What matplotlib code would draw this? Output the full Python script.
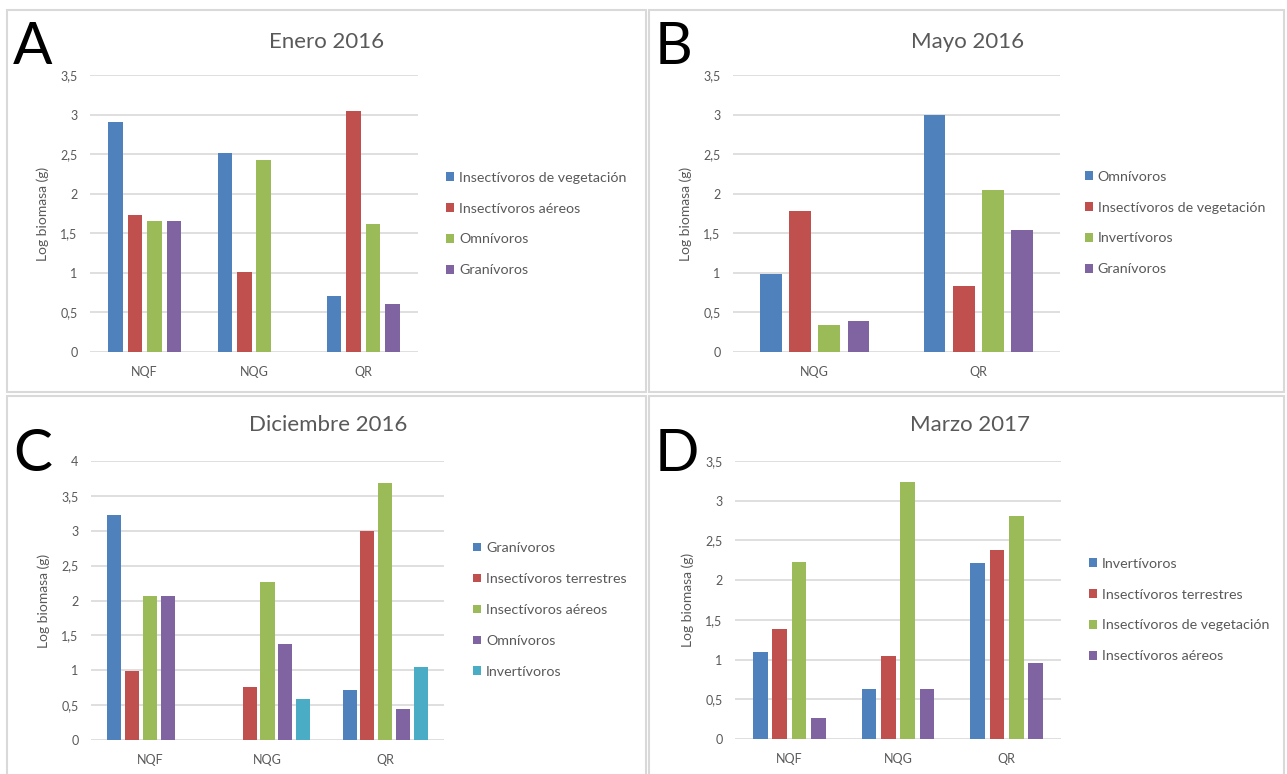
import numpy as np
import matplotlib.pyplot as plt
from matplotlib.patches import Rectangle
from matplotlib.ticker import MultipleLocator, FuncFormatter

plt.close('all')
plt.rcParams['font.family'] = ['Lato', 'DejaVu Sans']

# colours of the series (Excel 2010 palette)
blue = '#4F81BD'
red = '#C0504D'
green = '#9BBB59'
purple = '#8064A2'
cyan = '#4BACC6'

# A - Enero 2016
sites_a = ['NQF', 'NQG', 'QR']
labels_a = ['Insectívoros de vegetación', 'Insectívoros aéreos', 'Omnívoros', 'Granívoros']
vals_a = [
    [2.90, 2.51, 0.71],
    [1.73, 1.01, 3.05],
    [1.66, 2.43, 1.62],
    [1.66, np.nan, 0.61],
]

# B - Mayo 2016
sites_b = ['NQG', 'QR']
labels_b = ['Omnívoros', 'Insectívoros de vegetación', 'Invertívoros', 'Granívoros']
vals_b = [
    [0.98, 2.99],
    [1.78, 0.83],
    [0.34, 2.05],
    [0.39, 1.54],
]

# C - Diciembre 2016
sites_c = ['NQF', 'NQG', 'QR']
labels_c = ['Granívoros', 'Insectívoros terrestres', 'Insectívoros aéreos', 'Omnívoros', 'Invertívoros']
vals_c = [
    [3.22, np.nan, 0.71],
    [0.99, 0.76, 2.99],
    [2.06, 2.26, 3.68],
    [2.06, 1.37, 0.45],
    [np.nan, 0.59, 1.04],
]

# D - Marzo 2017
sites_d = ['NQF', 'NQG', 'QR']
labels_d = ['Invertívoros', 'Insectívoros terrestres', 'Insectívoros de vegetación', 'Insectívoros aéreos']
vals_d = [
    [1.10, 0.63, 2.21],
    [1.39, 1.05, 2.38],
    [2.23, 3.24, 2.81],
    [0.27, 0.63, 0.96],
]

W, H = 1287, 774
fig = plt.figure(figsize=(W / 100, H / 100), dpi=100)
grey_txt = '#595959'
grid_col = '#D9D9D9'


def px_rect(left, right, top, bottom):
    return [left / W, 1 - bottom / H, (right - left) / W, (bottom - top) / H]


def comma(v, pos):
    return ('%g' % v).replace('.', ',')


def panel(rect, sites, labels, vals, colors, ymax, pitch, width,
          title, title_x, title_y, letter, letter_xy, leg_x, leg_y):
    ax = fig.add_axes(px_rect(*rect))
    x = np.arange(len(sites))
    n = len(labels)
    for i in range(n):
        off = (i - (n - 1) / 2) * pitch
        ax.bar(x + off, vals[i], width, color=colors[i], label=labels[i], zorder=3)
    ax.set_xlim(-0.5, len(sites) - 0.5)
    ax.set_ylim(0, ymax)
    ax.yaxis.set_major_locator(MultipleLocator(0.5))
    ax.yaxis.set_major_formatter(FuncFormatter(comma))
    ax.set_xticks(x)
    ax.set_xticklabels(sites)
    ax.grid(axis='y', color=grid_col, lw=1.2, zorder=0)
    for s in ax.spines.values():
        s.set_visible(False)
    ax.tick_params(axis='both', length=0, labelsize=9, colors=grey_txt)
    ax.tick_params(axis='y', pad=9)
    ax.tick_params(axis='x', pad=10)
    ax.set_ylabel('Log biomasa (g)', fontsize=10, color=grey_txt, labelpad=8)
    fig.text(title_x / W, 1 - title_y / H, title, ha='center', va='center',
             fontsize=16, color=grey_txt)
    fig.text(letter_xy[0] / W, 1 - letter_xy[1] / H, letter, ha='left',
             va='baseline', fontsize=42, color='black')
    h, l = ax.get_legend_handles_labels()
    fig.legend(h, l, loc='center left', bbox_to_anchor=(leg_x / W, 1 - leg_y / H),
               frameon=False, fontsize=10.3, labelcolor=grey_txt,
               handlelength=0.55, handleheight=0.55, handletextpad=0.35,
               labelspacing=1.32, borderpad=0, borderaxespad=0)
    return ax


cols4 = [blue, red, green, purple]
cols5 = [blue, red, green, purple, cyan]

panel((90, 418, 75, 352), sites_a, labels_a, vals_a, cols4, 3.5, 0.178, 0.133,
      'Enero 2016', 327, 42, 'A', (13, 64), 446, 224)
panel((733, 1060, 75, 352), sites_b, labels_b, vals_b, cols4, 3.5, 0.178, 0.133,
      'Mayo 2016', 968, 42, 'B', (655, 64), 1085, 223)
panel((91, 444, 461, 740), sites_c, labels_c, vals_c, cols5, 4, 0.151, 0.119,
      'Diciembre 2016', 328, 425, 'C', (13, 471), 473, 610)
panel((735, 1061, 461, 739), sites_d, labels_d, vals_d, cols4, 3.5, 0.178, 0.133,
      'Marzo 2017', 970, 425, 'D', (655, 471), 1089, 610)

# light grey frames around the four panels
for (l, r, t, b) in [(7, 646, 10, 392), (649, 1284, 10, 392),
                     (7, 646, 396, 780), (649, 1284, 396, 780)]:
    fig.patches.append(Rectangle((l / W, 1 - b / H), (r - l) / W, (b - t) / H,
                                 transform=fig.transFigure, fill=False,
                                 edgecolor=grid_col, lw=1.5))

fig.savefig('out.png', dpi=100)
